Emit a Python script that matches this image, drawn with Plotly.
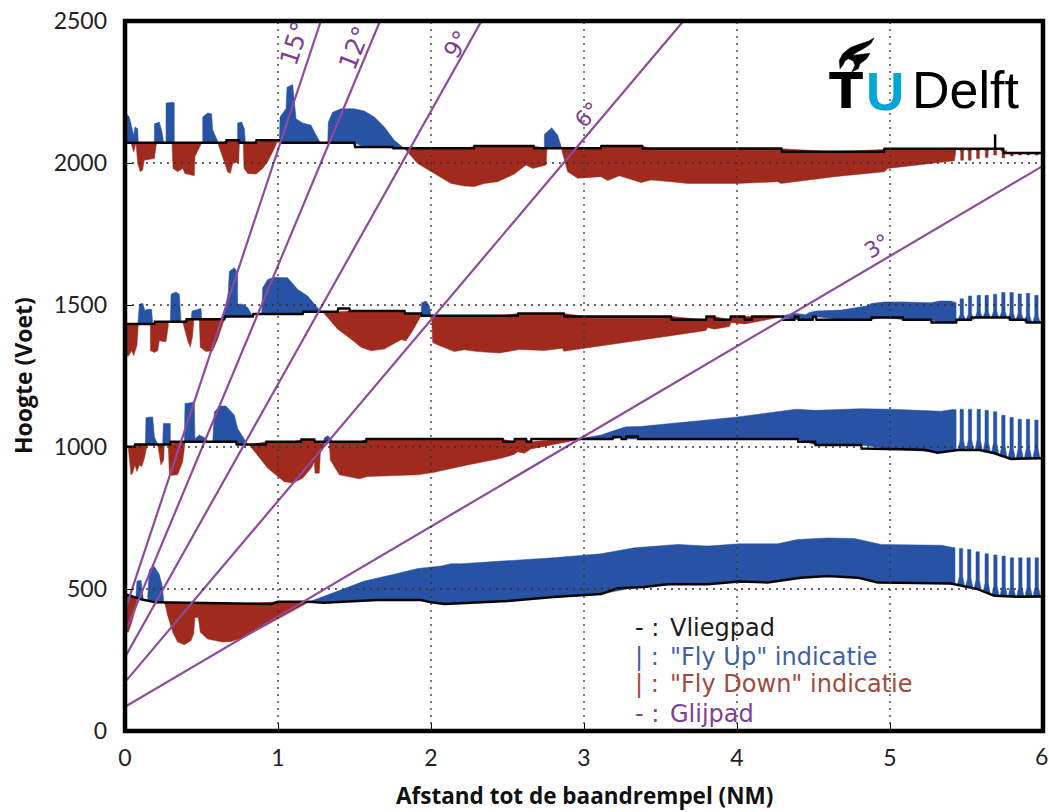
import numpy as np
import plotly.graph_objects as go

BLUE = "#2853a4"
RED = "#a02a1e"
PURPLE = "#8e4a9e"

X_TICKS = [0, 1, 2, 3, 4, 5, 6]
Y_TICKS = [0, 500, 1000, 1500, 2000, 2500]

# glide paths: angle, start height at threshold, end point
GLIDE_ANGLE = [3, 6, 9, 12, 15]
GLIDE_Y0 = [85, 172, 260, 347, 425]
GLIDE_X1 = [6.0, 3.65, 2.33, 1.667, 1.28]
GLIDE_Y1 = [1990, 2500, 2500, 2500, 2500]

# flight path level changes (distance, height)
P2000_X = [0, .66, .745, .856, 1.02, 1.50, 1.75, 1.825, 2.28, 2.67, 3.11, 3.38, 4.29, 4.96, 5.74]
P2000_Y = [2071, 2080, 2071, 2080, 2071, 2056, 2052, 2052, 2060, 2052, 2060, 2051, 2040, 2050, 2035]
P1500_X = [0, .192, .399, .649, .835, 1.161, 1.39, 1.466, 1.826, 1.935, 2.566, 2.867, 3.568, 3.797, 3.852, 3.956,
           4.048, 4.096, 4.298, 4.374, 4.40, 4.494, 4.516, 4.876, 5.083, 5.268, 5.432, 5.53, 5.78, 5.889]
P1500_Y = [1433, 1441, 1450, 1459.5, 1468, 1476, 1487.5, 1479, 1470, 1462, 1470, 1459.5, 1448, 1459.5, 1448, 1459.5,
           1448, 1459.5, 1448, 1459, 1448, 1459, 1448, 1456, 1448, 1438.5, 1448, 1456, 1448, 1438.5]
P1000_X = [0, .062, .296, .726, .92, 1.15, 1.237, 1.575, 2.468, 2.544, 2.621, 2.653, 3.187, 3.242, 3.274, 3.35,
           4.397, 4.51]
P1000_Y = [1001, 1009, 1018.5, 1009, 1018.5, 1026.5, 1018.5, 1028, 1018.5, 1028, 1018.5, 1028, 1035, 1028, 1037, 1028,
           1018.5, 1007]
P1000_TAIL_X = [4.811, 4.815, 5.007, 5.225, 5.312, 5.443, 5.584, 5.682, 5.791, 5.987, 6.0]
P1000_TAIL_Y = [1007, 995, 993, 990, 980, 989, 989.5, 978, 958, 960, 960]
P500_X = [0, .105, .2, .279, .625, .957, 1.0, 1.2, 1.3, 1.65, 1.935, 2.0, 2.09, 2.5, 2.8, 3.111, 3.22, 3.394, 3.547,
          3.808, 4.015, 4.2, 4.418, 4.592, 4.789, 4.919, 5.399, 5.573, 5.682, 5.835, 5.987, 6.0]
P500_Y = [482, 464, 453, 452, 450, 447, 455, 455, 452, 461, 461, 453, 447, 458, 472, 482, 503, 507, 517,
          517, 526, 523, 540, 546, 540, 523, 519, 499.5, 476, 472.5, 474, 474]
SPIKE_X = [5.687, 5.687]
SPIKE_Y = [2050, 2101]

# Fly Up areas (x, tip heights)
UP_2000 = [
    ([0, .015, .028, .044, .057, .065, .083, .087], [2191, 2170, 2162, 2121, 2098, 2127, 2121, 2071]),
    ([.192, .192, .224, .240, .253], [2071, 2138, 2144, 2115, 2071]),
    ([.268, .268, .312, .322, .322], [2071, 2211, 2214, 2211, 2071]),
    ([.508, .508, .540, .566, .573, .610], [2071, 2162, 2176, 2173, 2117, 2071]),
    ([.736, .736, .763, .780, .787], [2071, 2141, 2144, 2121, 2071]),
    ([1.009, 1.013, 1.052, 1.059, 1.096, 1.111, 1.118, 1.161, 1.216, 1.238, 1.277],
     [2071, 2162, 2191, 2267, 2276, 2208, 2156, 2141, 2133, 2109, 2071]),
    ([1.325, 1.329, 1.357, 1.412, 1.499, 1.564, 1.630, 1.695, 1.760, 1.826],
     [2068, 2144, 2179, 2191, 2191, 2183, 2162, 2127, 2080, 2051]),
    ([2.741, 2.741, 2.789, 2.828, 2.854], [2052, 2101, 2124, 2098, 2052]),
]
DOWN_2000 = [
    ([.039, .057, .072, .083, .100, .115, .126, .192, .203, .207],
     [2071, 2039, 2071, 1998, 1969, 1975, 2010, 2016, 2060, 2071]),
    ([.307, .314, .344, .377, .392, .442, .453, .457, .486, .501],
     [2071, 1981, 1969, 1981, 1963, 1958, 1955, 2022, 2057, 2071]),
    ([.606, .638, .671, .688, .704, .743, .748], [2071, 2022, 1969, 1963, 1998, 2004, 2071]),
    ([.773, .778, .802, .856, .900, .932, .965, .991], [2071, 1981, 1963, 1961, 1981, 2004, 2039, 2069]),
    ([1.826, 1.913, 2.022, 2.131, 2.218, 2.283, 2.349, 2.436, 2.545, 2.621, 2.665, 2.752, 2.758],
     [2051, 1998, 1963, 1928, 1919, 1917, 1928, 1934, 1961, 1993, 1981, 1993, 2047]),
    ([2.854, 2.887, 2.893, 2.959, 3.013, 3.111, 3.155, 3.231, 3.373, 3.438, 3.569, 3.678, 3.895, 4.005, 4.266, 4.288,
      4.636, 4.963, 4.985, 5.246, 5.421, 5.432],
     [2047, 1981, 1969, 1946, 1949, 1952, 1938, 1955, 1931, 1940, 1934, 1928, 1928, 1928, 1934, 1928,
      1952, 1969, 1981, 1998, 2008, 2050]),
]
UP_1500 = [
    ([.083, .094, .116, .131, .144, .174, .181], [1429, 1503, 1506, 1480, 1485, 1485, 1433]),
    ([.296, .301, .333, .355, .366], [1441, 1538, 1546, 1538, 1444]),
    ([.432, .438, .497, .501], [1450, 1479, 1488, 1450]),
    ([.638, .649, .675, .682, .715, .736, .736, .769, .802, .835],
     [1450, 1474, 1544, 1619, 1631, 1614, 1503, 1503, 1491, 1462]),
    ([.893, .900, .933, .976, 1.063, 1.129, 1.194, 1.281], [1471, 1561, 1590, 1598, 1596, 1555, 1532, 1476]),
    ([1.935, 1.939, 1.967, 1.989, 2.0], [1462, 1508, 1514, 1497, 1462]),
    ([4.298, 4.374, 4.45, 4.472, 4.516, 4.68, 4.854, 4.876, 4.963, 5.094, 5.268, 5.323, 5.399, 5.432],
     [1462, 1471, 1466, 1474, 1479, 1482, 1497, 1505, 1511, 1511, 1508, 1514, 1514, 1508]),
]
DOWN_1500 = [
    ([0, .022, .044, .057, .078, .087], [1320, 1320, 1339, 1322, 1357, 1424]),
    ([.166, .166, .192, .214, .224, .268, .283], [1430, 1339, 1333, 1339, 1374, 1371, 1427]),
    ([.377, .410, .427, .442, .449], [1441, 1374, 1351, 1392, 1444]),
    ([.486, .492, .529, .573, .606, .649], [1444, 1351, 1336, 1339, 1380, 1444]),
    ([1.292, 1.390, 1.477, 1.543, 1.608, 1.695, 1.804, 1.837, 1.880, 1.935],
     [1476, 1415, 1380, 1351, 1339, 1345, 1378, 1374, 1409, 1462]),
    ([2.004, 2.011, 2.054, 2.152, 2.218, 2.305, 2.446, 2.577, 2.740, 2.860, 2.867, 3.013, 3.263, 3.568, 3.797, 3.808,
      3.852, 3.950, 3.961, 4.048, 4.102, 4.298],
     [1462, 1368, 1357, 1336, 1342, 1336, 1331, 1343, 1340, 1348, 1337, 1348, 1368, 1392, 1410, 1421,
      1415, 1424, 1438, 1433, 1438, 1458]),
]
UP_1000 = [
    ([0, .012], [1040, 1010]),
    ([.133, .137, .181, .192, .214], [1009, 1104, 1106, 1036, 1009]),
    ([.246, .251, .296, .296], [1009, 1083, 1083, 1013]),
    ([.388, .392, .453, .457, .486, .529, .540], [1018, 1153, 1158, 1030, 1042, 1030, 1018]),
    ([.573, .584, .617, .660, .715, .736, .802], [1018, 1123, 1144, 1144, 1112, 1065, 1009]),
    ([1.292, 1.303, 1.325, 1.346, 1.357], [1012, 1032, 1040, 1030, 1018]),
    ([3.002, 3.111, 3.187, 3.242, 3.274, 3.365, 3.764, 4.005, 4.386, 4.517, 4.811, 5.007, 5.334, 5.421, 5.432],
     [1032, 1042, 1056, 1065, 1071, 1072, 1094, 1106, 1133, 1129, 1135, 1133, 1126, 1133, 1130]),
]
DOWN_1000 = [
    ([.022, .039, .050, .065, .078, .094, .109, .127, .142], [995, 902, 908, 937, 914, 937, 931, 960, 1001]),
    ([.214, .235, .253, .257], [1007, 937, 954, 1007]),
    ([.283, .290, .344, .377, .392], [1013, 900, 902, 948, 1013]),
    ([.813, .933, 1.041, 1.096, 1.161, 1.216, 1.238, 1.242, 1.270, 1.277, 1.303],
     [1007, 925, 878, 873, 890, 925, 948, 908, 908, 978, 1007]),
    ([1.335, 1.342, 1.401, 1.531, 1.586, 1.760, 1.913, 2.021, 2.239, 2.457, 2.544, 2.566, 2.610, 2.653, 2.849, 3.002],
     [1018, 954, 902, 888, 896, 899, 902, 911, 937, 960, 974, 983, 978, 993, 1013, 1030]),
]
UP_500 = [
    ([.072, .078, .105, .120], [476, 528, 531, 476]),
    ([.148, .159, .192, .224, .246, .253], [470, 569, 579, 552, 505, 462]),
    ([1.205, 1.390, 1.564, 1.760, 1.913, 2.065, 2.131, 2.196, 2.5, 2.8, 3.111, 3.329, 3.612, 3.808, 4.015, 4.265,
      4.396, 4.592, 4.767, 4.941, 5.333, 5.425],
     [455, 494, 528, 552, 572, 581, 589, 589, 600, 610, 624, 645, 657, 651, 659, 659,
      674, 680, 678, 657, 654, 645]),
]
DOWN_500 = [
    ([0, .022, .044, .072, .078], [348, 348, 383, 435, 470]),
    ([.257, .279, .312, .344, .388, .431, .449, .457, .479, .492, .540, .638, .693, .780, .998, 1.205],
     [458, 406, 348, 313, 304, 318, 342, 400, 400, 348, 324, 313, 315, 330, 394, 455]),
]

# comb part of the indications at the far end
COMB_X = [5.469, 5.523, 5.580, 5.632, 5.687, 5.741, 5.795, 5.848, 5.902, 5.957]
COMB_2000_X = [5.471, 5.521, 5.575, 5.632, 5.687, 5.741, 5.796, 5.850, 5.904, 5.959]
COMB_2000 = [2010, 2010, 2016, 2019, 2028, 2018, 2025, 2028, 2028, 2028]
COMB_1500 = [1522, 1532, 1534, 1534, 1538, 1544, 1544, 1539, 1541, 1534]
COMB_1000 = [1133, 1133, 1133, 1129, 1124, 1112, 1104, 1098, 1098, 1095]
COMB_500_X = [5.464, 5.518, 5.573, 5.632, 5.689, 5.743, 5.797, 5.852, 5.906, 5.959]
COMB_500 = [643, 639, 631, 624, 620, 616, 610, 610, 610, 610]

LEGEND_TEXT = ["Vliegpad", '"Fly Up" indicatie', '"Fly Down" indicatie', "Glijpad"]
LEGEND_MARK = ["- :", "| :", "| :", "- :"]
LEGEND_COLOR = ["#1c1c1c", "#3e60a6", "#a24a3c", "#7e4093"]
LEGEND_Y = [364, 262, 164, 60]

X_TITLE = "Afstand tot de baandrempel (NM)"
Y_TITLE = "Hoogte (Voet)"

ANGLE_LABELS = ["3°", "6°", "9°", "12°", "15°"]
ANGLE_X = [4.915, 3.025, 2.17, 1.505, 1.11]
ANGLE_Y = [1705, 2170, 2415, 2405, 2420]
ANGLE_ROT = [-33, -45, -58, -68, -72]
ANGLE_SIZE = [22, 22, 24, 25, 25]

FLAME_X = [120, 118, 128, 150, 175, 205, 222, 212, 190, 170, 158, 180, 210, 200, 180, 175, 155, 165, 160, 145, 135, 128, 120]
FLAME_Y = [135, 110, 90, 72, 62, 52, 42, 60, 75, 85, 95, 92, 88, 105, 120, 135, 145, 125, 112, 105, 112, 125, 135]


def steps(xs, ys, end):
    ex = [xs[0]]
    ey = [ys[0]]
    for i in range(1, len(xs)):
        ex += [xs[i], xs[i] + 0.004]
        ey += [ys[i - 1], ys[i]]
    if end is not None:
        ex.append(end)
        ey.append(ys[-1])
    return ex, ey


path_2000 = steps(P2000_X, P2000_Y, 6)
path_1500 = steps(P1500_X, P1500_Y, 6)
p1000 = steps(P1000_X, P1000_Y, None)
path_1000 = (p1000[0] + P1000_TAIL_X, p1000[1] + P1000_TAIL_Y)
path_500 = (P500_X, P500_Y)

RUNS = [
    (path_500, UP_500, DOWN_500),
    (path_1000, UP_1000, DOWN_1000),
    (path_1500, UP_1500, DOWN_1500),
    (path_2000, UP_2000, DOWN_2000),
]

fig = go.Figure()


def area(xs, tips, path, color):
    base = np.interp(xs, path[0], path[1]).tolist()
    fig.add_trace(go.Scatter(x=list(xs) + list(xs)[::-1], y=list(tips) + base[::-1], mode="lines",
                             fill="toself", fillcolor=color, line=dict(color=color, width=0.5),
                             hoverinfo="skip"))


for path, ups, downs in RUNS:
    for xs, tips in ups:
        area(xs, tips, path, BLUE)
    for xs, tips in downs:
        area(xs, tips, path, RED)


def comb(xs, tips, path, color, half):
    # each tooth is narrow at the tip and flares towards the flight path
    for x, tip in zip(xs, tips):
        b = float(np.interp(x, path[0], path[1]))
        h = tip - b
        area([x - 2.2 * half, x - half, x - half, x + half, x + half, x + 2.2 * half],
             [b, b + 0.25 * h, tip, tip, b + 0.25 * h, b], path, color)


comb(COMB_500_X, COMB_500, path_500, BLUE, 0.011)
comb(COMB_X, COMB_1000, path_1000, BLUE, 0.011)
comb(COMB_X, COMB_1500, path_1500, BLUE, 0.011)
comb(COMB_2000_X, COMB_2000, path_2000, RED, 0.009)

for path, _, _ in RUNS:
    fig.add_trace(go.Scatter(x=path[0], y=path[1], mode="lines", line=dict(color="#0a0505", width=2.5),
                             hoverinfo="skip"))
fig.add_trace(go.Scatter(x=SPIKE_X, y=SPIKE_Y, mode="lines", line=dict(color="#0a0505", width=2.5), hoverinfo="skip"))

for i, ang in enumerate(GLIDE_ANGLE):
    fig.add_trace(go.Scatter(x=[0, GLIDE_X1[i]], y=[GLIDE_Y0[i], GLIDE_Y1[i]], mode="lines", name=f"{ang}°",
                             line=dict(color=PURPLE, width=2.2), hoverinfo="skip"))

shapes = []
for v in X_TICKS[1:-1]:
    shapes.append(dict(type="line", xref="x", yref="paper", x0=v, x1=v, y0=0, y1=1, layer="above",
                       line=dict(color="#333333", width=1.3, dash="2px,5px")))
for v in Y_TICKS[1:-1]:
    shapes.append(dict(type="line", xref="paper", yref="y", x0=0, x1=1, y0=v, y1=v, layer="above",
                       line=dict(color="#333333", width=1.3, dash="2px,5px")))
# frame centred on the plot edges
shapes.append(dict(type="rect", xref="paper", yref="paper", x0=0, x1=1, y0=0, y1=1, layer="above",
                   line=dict(color="black", width=4.5)))
# flame of the logo
flame = "M " + " L ".join(
    f"{(800 + a / 3 - 125) / 918:.4f},{1 - (20 + b / 3 - 17) / 714:.4f}" for a, b in zip(FLAME_X, FLAME_Y)) + " Z"
shapes.append(dict(type="path", xref="paper", yref="paper", path=flame, fillcolor="black",
                   line=dict(color="black", width=0.5), layer="above"))

ann = []
for i in range(4):
    ann.append(dict(x=3.32, y=LEGEND_Y[i], text=LEGEND_MARK[i], showarrow=False, xanchor="left", yanchor="middle",
                    font=dict(family="DejaVu Sans", size=24, color=LEGEND_COLOR[i])))
    ann.append(dict(x=3.55, y=LEGEND_Y[i], text=LEGEND_TEXT[i], showarrow=False, xanchor="left", yanchor="middle",
                    font=dict(family="DejaVu Sans", size=24, color=LEGEND_COLOR[i])))
for i in range(5):
    ann.append(dict(x=ANGLE_X[i], y=ANGLE_Y[i], text=ANGLE_LABELS[i], showarrow=False, textangle=ANGLE_ROT[i],
                    font=dict(family="DejaVu Sans", size=ANGLE_SIZE[i], color="#7e4093")))
# the far-right tick label would be dropped at the page edge
ann.append(dict(x=6, y=0, text="6", showarrow=False, yanchor="top", yshift=-9, xshift=-2,
                font=dict(family="Lato", size=23, color="#222222")))
ann.append(dict(x=4.71, y=2252, text="<b>T</b>", showarrow=False,
                font=dict(family="DejaVu Sans", size=50, color="black")))
ann.append(dict(x=4.965, y=2252, text="<b>U</b>", showarrow=False,
                font=dict(family="Liberation Sans", size=53, color="#00A6D6")))
ann.append(dict(x=5.13, y=2256, text="Delft", showarrow=False, xanchor="left",
                font=dict(family="Liberation Sans", size=52, color="black")))
# axis titles placed directly so that they do not push the plot margins
ann.append(dict(xref="paper", yref="paper", x=0.5, y=-0.0915, text=f"<b>{X_TITLE}</b>", showarrow=False,
                xanchor="center", yanchor="middle", font=dict(family="Open Sans", size=22.5, color="#111")))
ann.append(dict(xref="paper", yref="paper", x=-0.111, y=0.5, text=f"<b>{Y_TITLE}</b>", showarrow=False,
                textangle=-90, xanchor="center", yanchor="middle",
                font=dict(family="Open Sans", size=23, color="#111")))

fig.update_layout(
    width=1049, height=812, autosize=False,
    margin=dict(l=125, r=6, t=17, b=81),
    paper_bgcolor="white", plot_bgcolor="white",
    showlegend=False,
    font=dict(family="Lato", size=23, color="#222222"),
    shapes=shapes, annotations=ann,
    xaxis=dict(range=[0, 6], tickvals=X_TICKS[:-1], showgrid=False, zeroline=False, ticks="inside", ticklen=8,
               tickcolor="black", tickwidth=1, ticklabelstandoff=11),
    yaxis=dict(range=[0, 2500], tickvals=Y_TICKS, showgrid=False, zeroline=False, ticks="inside", ticklen=8,
               tickcolor="black", tickwidth=1, ticklabelstandoff=17),
)

fig.write_html("out.html", post_script="document.body.style.margin='0';",
               config={"displayModeBar": False})
